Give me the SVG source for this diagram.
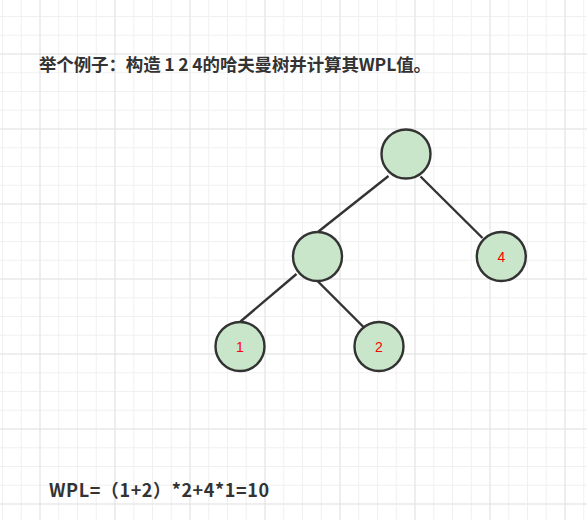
<svg xmlns="http://www.w3.org/2000/svg" width="587" height="520" viewBox="0 0 587 520">
  <defs>
    <pattern id="minor" patternUnits="userSpaceOnUse" x="2" y="16" width="18.75" height="18.75">
      <rect x="0" y="0" width="1" height="18.75" fill="#f0f0f0"/>
      <rect x="0" y="0" width="18.75" height="1" fill="#f0f0f0"/>
    </pattern>
    <pattern id="major" patternUnits="userSpaceOnUse" x="39.5" y="53.5" width="75" height="75">
      <rect x="0" y="0" width="1" height="75" fill="#e3e3e3"/>
      <rect x="0" y="0" width="75" height="1" fill="#e3e3e3"/>
    </pattern>
    <style>
      .node circle { fill: #c9e6ca; stroke: #333333; stroke-width: 2.4; }
      .node text { font-family: "Liberation Sans", "Noto Sans", Arial, sans-serif; font-size: 14px; fill: #ff0000; text-anchor: middle; dominant-baseline: central; }
      .edge { stroke: #333333; stroke-width: 2.4; fill: none; }
      .title { font-family: "Noto Sans CJK SC", "Microsoft YaHei", sans-serif; font-weight: bold; font-size: 17.5px; fill: #333333; }
      .formula { font-family: "Noto Sans CJK SC", "Microsoft YaHei", sans-serif; font-weight: bold; font-size: 18px; fill: #333333; }
    </style>
  </defs>
  <rect width="587" height="520" fill="#ffffff"/>
  <rect width="587" height="520" fill="url(#minor)"/>
  <rect width="587" height="520" fill="url(#major)"/>

  <g id="title">
    <text class="title" x="39" y="71" textLength="392" lengthAdjust="spacing">举个例子：构造 1 2 4的哈夫曼树并计算其WPL值。</text>
  </g>

  <g id="connectors">
    <line class="edge" x1="388.5" y1="176" x2="318.5" y2="231.5"/>
    <line class="edge" x1="420.5" y1="176.5" x2="482.5" y2="238"/>
    <line class="edge" x1="296.5" y1="274" x2="240.5" y2="321.5"/>
    <line class="edge" x1="316.5" y1="280" x2="363.5" y2="327"/>
  </g>

  <g id="node-root" class="node">
    <circle cx="406" cy="154" r="24.5"/>
  </g>
  <g id="node-mid" class="node">
    <circle cx="317.5" cy="256.5" r="24.5"/>
  </g>
  <g id="node-4" class="node">
    <circle cx="501.3" cy="256.5" r="24.5"/>
    <text x="501.3" y="257">4</text>
  </g>
  <g id="node-1" class="node">
    <circle cx="240" cy="346.5" r="24.5"/>
    <text x="240" y="347">1</text>
  </g>
  <g id="node-2" class="node">
    <circle cx="379" cy="346.5" r="24.5"/>
    <text x="379" y="347">2</text>
  </g>

  <g id="formula">
    <text class="formula" x="49" y="497" textLength="220" lengthAdjust="spacing">WPL=（1+2）*2+4*1=10</text>
  </g>
</svg>
